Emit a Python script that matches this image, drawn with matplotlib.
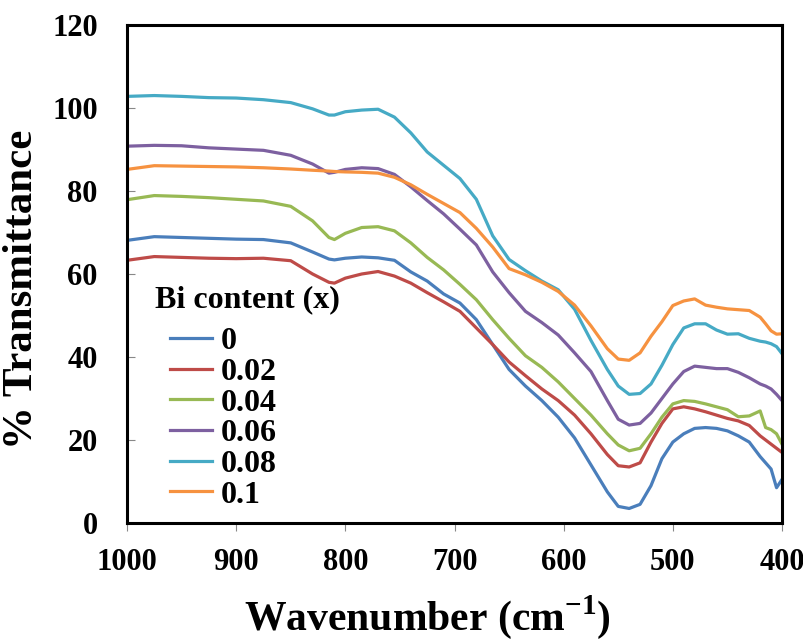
import numpy as np
import matplotlib
matplotlib.use('Agg')
import matplotlib.pyplot as plt

# Datos (numero de onda en cm-1, % transmitancia)
wavenumber = [1000, 975, 950, 925, 900, 875, 850, 830, 815, 810, 800, 785, 770,
              755, 740, 725, 710, 695, 680, 665, 650, 635, 620, 605, 590, 575,
              560, 550, 540, 530, 520, 510, 500, 490, 480, 470, 460, 450, 440,
              430, 420, 415, 410, 405, 400]

t_0 = [68.1, 69.0, 68.8, 68.6, 68.4, 68.3, 67.5, 65.3, 63.6, 63.4, 63.8, 64.1, 63.9,
       63.3, 60.5, 58.3, 55.2, 53.0, 49.0, 43.0, 37.0, 33.0, 29.5, 25.5, 20.5, 14.0,
       7.5, 4.0, 3.5, 4.5, 9.0, 15.5, 19.5, 21.5, 22.8, 23.0, 22.8, 22.2, 21.0,
       19.5, 16.0, 14.5, 13.0, 8.5, 10.5]
t_002 = [63.3, 64.2, 64.0, 63.8, 63.7, 63.8, 63.2, 60.0, 58.0, 57.8, 59.0, 60.0, 60.6,
         59.5, 57.8, 55.5, 53.3, 51.0, 47.0, 43.0, 38.8, 35.5, 32.3, 29.5, 26.0, 21.5,
         16.5, 13.8, 13.5, 14.5, 19.5, 24.0, 27.5, 28.0, 27.5, 26.8, 26.0, 25.2, 24.6,
         23.5, 21.0, 20.0, 19.0, 18.0, 17.0]
t_004 = [77.9, 78.9, 78.7, 78.4, 78.0, 77.6, 76.3, 72.8, 68.8, 68.3, 69.8, 71.2, 71.4,
         70.4, 67.5, 64.0, 61.0, 57.5, 53.8, 49.0, 44.5, 40.3, 37.5, 34.0, 30.0, 26.0,
         21.5, 18.8, 17.4, 18.0, 21.5, 25.5, 28.7, 29.5, 29.3, 28.7, 28.0, 27.3, 25.6,
         25.8, 27.0, 23.0, 22.5, 21.5, 19.0]
t_006 = [90.8, 91.0, 90.9, 90.4, 90.1, 89.8, 88.6, 86.5, 84.3, 84.5, 85.2, 85.6, 85.4,
         84.0, 81.0, 77.7, 74.5, 70.8, 67.0, 60.5, 55.5, 51.0, 48.3, 45.3, 41.0, 36.5,
         29.5, 25.0, 23.6, 24.0, 26.5, 30.0, 33.5, 36.5, 37.8, 37.5, 37.2, 37.2, 36.3,
         35.0, 33.5, 33.0, 32.3, 31.0, 29.5]
t_008 = [102.8, 103.0, 102.8, 102.5, 102.4, 102.0, 101.3, 99.8, 98.3, 98.3, 99.1, 99.5, 99.7,
         97.8, 94.0, 89.4, 86.2, 83.0, 78.0, 69.2, 63.5, 60.8, 58.3, 56.2, 51.5, 44.0,
         37.0, 33.0, 31.0, 31.2, 33.5, 38.0, 43.0, 47.0, 48.0, 48.0, 46.5, 45.5, 45.6,
         44.5, 43.8, 43.6, 43.2, 42.5, 40.8]
t_01 = [85.2, 86.1, 86.0, 85.9, 85.8, 85.6, 85.3, 85.0, 84.8, 84.7, 84.6, 84.5, 84.3,
        83.3, 81.5, 79.2, 77.0, 74.8, 71.0, 66.5, 61.3, 59.8, 58.0, 55.8, 52.5, 47.5,
        42.0, 39.5, 39.2, 41.0, 45.0, 48.5, 52.4, 53.5, 54.0, 52.5, 52.0, 51.6, 51.4,
        51.2, 49.6, 48.0, 46.3, 45.5, 45.6]

labels = ['0', '0.02', '0.04', '0.06', '0.08', '0.1']
colors = ['#4A7EBB', '#BE4B48', '#98B954', '#7D60A0', '#46AAC5', '#F69240']

plt.rcParams['font.family'] = ['Liberation Serif', 'DejaVu Serif']
plt.rcParams['font.weight'] = 'bold'
plt.rcParams['mathtext.fontset'] = 'custom'
plt.rcParams['mathtext.bf'] = 'Liberation Serif:bold'
plt.rcParams['mathtext.rm'] = 'Liberation Serif:bold'

fig = plt.figure(figsize=(8.04, 6.40), dpi=100)
ax = fig.add_axes([127 / 804, 1 - 523 / 640, 655 / 804, 498 / 640])

series = [t_0, t_002, t_004, t_006, t_008, t_01]
for vals, lab, col in zip(series, labels, colors):
    ax.plot(wavenumber, vals, color=col, lw=2.3, label=lab, solid_joinstyle='round')

ax.set_xlim(1000, 400)
ax.set_ylim(0, 120)
ax.set_xticks([1000, 900, 800, 700, 600, 500, 400])
ax.set_yticks([0, 20, 40, 60, 80, 100, 120])

for s in ax.spines.values():
    s.set_linewidth(2.2)
    s.set_color('black')

ax.tick_params(axis='y', direction='in', length=6, width=0.8, color='#888888',
               labelsize=22, pad=21)
ax.tick_params(axis='x', direction='out', length=6, width=0.8, color='#888888',
               labelsize=22, pad=12)
for lbl in ax.get_xticklabels() + ax.get_yticklabels():
    lbl.set_fontweight('bold')

# titulo de la leyenda como texto aparte (las entradas van algo sangradas)
fig.text(155 / 804, 1 - 300 / 640, 'Bi content (x)', fontsize=23,
         fontweight='bold', ha='left', va='center')

leg = ax.legend(loc='upper left', bbox_to_anchor=(27 / 655, 212 / 498),
                frameon=False, prop={'size': 23, 'weight': 'bold'},
                handlelength=1.3, handletextpad=0.3, labelspacing=0.04,
                borderpad=0)

fig.text(427 / 804, 1 - 617 / 640, r'Wavenumber (cm$^{\mathbf{-1}}$)',
         ha='center', va='center', fontsize=30, fontweight='bold')
fig.text(22 / 804, 1 - 289 / 640, '% Transmittance', rotation=90,
         ha='center', va='center', fontsize=31, fontweight='bold')

fig.savefig('out.png', dpi=100)
plt.close(fig)
